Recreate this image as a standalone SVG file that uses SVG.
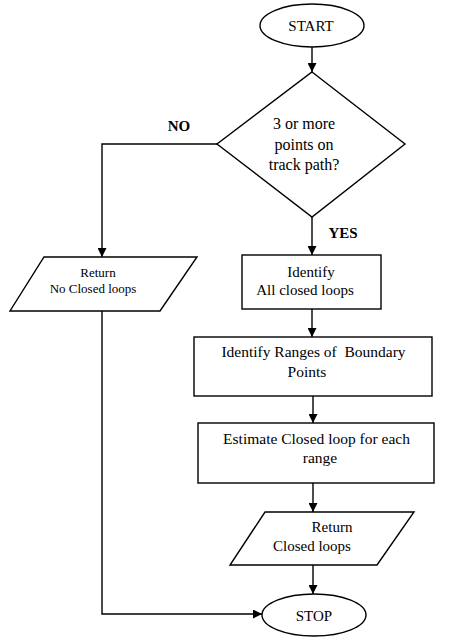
<svg xmlns="http://www.w3.org/2000/svg" width="450" height="641" viewBox="0 0 450 641" font-family="'Liberation Serif', Tinos, 'Times New Roman', Times, serif">
<style>
.shape{fill:#fff;stroke:#000;stroke-width:1.4}
.conn{fill:none;stroke:#000;stroke-width:1.4}
text{font-family:'Liberation Serif', Tinos, 'Times New Roman', Times, serif;fill:#000;text-anchor:middle}
.t16{font-size:16px}
.t15{font-size:15px}
.t155{font-size:15.5px}
.t13{font-size:13px}
.lbl{font-size:15px;font-weight:bold}
</style>
<defs>
<marker id="arr" markerWidth="9" markerHeight="9" refX="9" refY="4.5" orient="auto" markerUnits="userSpaceOnUse">
<path d="M0,0 L9,4.5 L0,9 z" fill="#000"/>
</marker>
</defs>
<rect width="450" height="641" fill="#fff"/>
<g id="connectors">
<path class="conn" d="M312,47 L312,72" marker-end="url(#arr)"/>
<path class="conn" d="M312,217 L312,255" marker-end="url(#arr)"/>
<path class="conn" d="M217,144 L102,144 L102,257" marker-end="url(#arr)"/>
<path class="conn" d="M312,309 L312,337" marker-end="url(#arr)"/>
<path class="conn" d="M313,396 L313,423" marker-end="url(#arr)"/>
<path class="conn" d="M313,483 L313,512" marker-end="url(#arr)"/>
<path class="conn" d="M313,565 L313,594" marker-end="url(#arr)"/>
<path class="conn" d="M102,311 L102,614 L262,614" marker-end="url(#arr)"/>
<text class="lbl" x="179" y="131">NO</text>
<text class="lbl" x="343" y="238">YES</text>
</g>
<g id="start">
<ellipse class="shape" cx="312" cy="25.5" rx="52" ry="21.5"/>
<text class="t15" x="311" y="31">START</text>
</g>
<g id="decision">
<polygon class="shape" points="312,72 405,144 312,217 217,144"/>
<text class="t16" x="304" y="129">3 or more</text>
<text class="t16" x="304" y="150">points on</text>
<text class="t16" x="304" y="170">track path?</text>
</g>
<g id="return-none">
<polygon class="shape" points="44,257 197,257 160,311 10,311"/>
<text class="t13" x="98" y="277">Return</text>
<text class="t13" x="93" y="293">No Closed loops</text>
</g>
<g id="identify-loops">
<rect class="shape" x="242" y="255" width="139" height="54"/>
<text class="t15" x="311" y="277">Identify</text>
<text class="t15" x="305" y="295">All closed loops</text>
</g>
<g id="identify-ranges">
<rect class="shape" x="194" y="337" width="238" height="59"/>
<text class="t155" x="313.5" y="357" xml:space="preserve">Identify Ranges of  Boundary</text>
<text class="t155" x="307" y="377">Points</text>
</g>
<g id="estimate">
<rect class="shape" x="198" y="423" width="236" height="60"/>
<text class="t155" x="316.5" y="444">Estimate Closed loop for each</text>
<text class="t155" x="320" y="463">range</text>
</g>
<g id="return-loops">
<polygon class="shape" points="265,512 414,512 377,565 230,565"/>
<text class="t15" x="332" y="532">Return</text>
<text class="t15" x="312" y="551">Closed loops</text>
</g>
<g id="stop">
<ellipse class="shape" cx="314" cy="615" rx="52" ry="21"/>
<text class="t15" x="314" y="621">STOP</text>
</g>
</svg>
